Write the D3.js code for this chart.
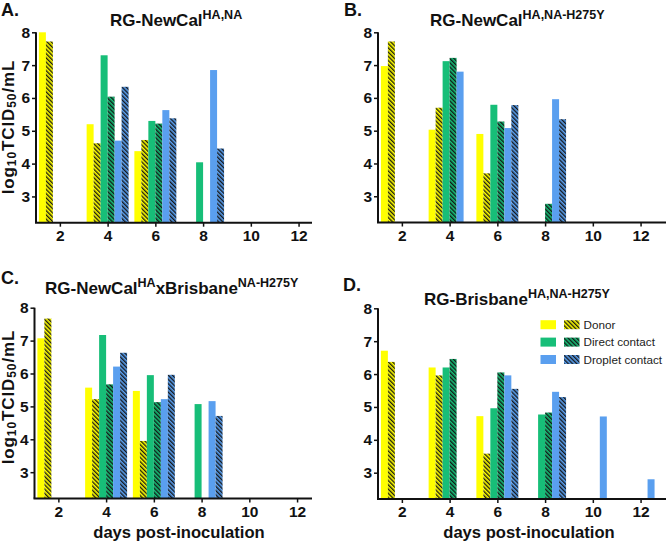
<!DOCTYPE html>
<html><head><meta charset="utf-8">
<script src="https://cdn.jsdelivr.net/npm/d3@7"></script>
<style>
html,body{margin:0;padding:0;background:#fff;}
svg{display:block;font-family:"Liberation Sans",Arial,sans-serif;}
</style></head>
<body><svg id="c" width="666" height="546"></svg>
<script>
// ---- data ----
const days = [2, 4, 6, 8, 10, 12];
const yTicks = [3, 4, 5, 6, 7, 8];
const seriesNames = ["Donor", "Donor", "Direct contact", "Direct contact", "Droplet contact", "Droplet contact"];
const seriesHatched = [false, true, false, true, false, true];
const seriesColors = ["#FFFF00", "#FFFF00", "#17BE78", "#17BE78", "#5A9FEF", "#5A9FEF"];
const legendLabels = ["Donor", "Direct contact", "Droplet contact"];
const panelLetters = ["A.", "B.", "C.", "D."];
const titleMain = ["RG-NewCal", "RG-NewCal", "RG-NewCal", "RG-Brisbane"];
const titleSup = ["HA,NA", "HA,NA-H275Y", "HA", "HA,NA-H275Y"];
const titleMid = ["", "", "xBrisbane", ""];
const titleSup2 = ["", "", "NA-H275Y", ""];

// values per panel: [series][day]
const panelA = [
  [8.0, 5.2, 4.38, null, null, null],
  [7.72, 4.62, 4.72, null, null, null],
  [null, 7.3, 5.3, 4.04, null, null],
  [null, 6.04, 5.22, null, null, null],
  [null, 4.7, 5.63, 6.85, null, null],
  [null, 6.34, 5.38, 4.46, null, null]
];
const panelB = [
  [6.97, 5.03, 4.9, null, null, null],
  [7.72, 5.7, 3.7, null, null, null],
  [null, 7.12, 5.79, null, null, null],
  [null, 7.22, 5.28, 2.77, null, null],
  [null, 6.8, 5.08, 5.96, null, null],
  [null, null, 5.78, 5.35, null, null]
];
const panelC = [
  [7.07, 5.57, 5.47, null, null, null],
  [7.67, 5.22, 3.95, null, null, null],
  [null, 7.17, 5.95, 5.07, null, null],
  [null, 5.67, 5.13, null, null, null],
  [null, 6.21, 5.22, 5.16, null, null],
  [null, 6.63, 5.96, 4.71, null, null]
];
const panelD = [
  [6.71, 6.2, 4.72, null, null, null],
  [6.37, 5.96, 3.58, null, null, null],
  [null, 6.2, 4.96, 4.77, null, null],
  [null, 6.46, 6.05, 4.83, null, null],
  [null, null, 5.96, 5.46, 4.71, 2.8],
  [null, null, 5.55, 5.3, null, null]
];
const panelData = [panelA, panelB, panelC, panelD];

// ---- layout ----
const layout = [
  {l: 36, t: 32.3, b: 222.7, axisEnd: 312, ylab: true, ylabY: 127, xlab: false, legend: false, lx: 1, ly: 16, tx: 110, ty: 26},
  {l: 378, t: 32.3, b: 222.5, axisEnd: 666, ylab: false, xlab: false, legend: false, lx: 344, ly: 16, tx: 430, ty: 26},
  {l: 34.5, t: 307.7, b: 498.5, axisEnd: 312, ylab: true, ylabY: 397, xlab: true, xlabX: 179, legend: false, lx: 1, ly: 284, tx: 45, ty: 294},
  {l: 378, t: 308.3, b: 499, axisEnd: 666, ylab: false, xlab: true, xlabX: 529, legend: true, lx: 343, ly: 290.5, tx: 424, ty: 305}
];
const pxPerDay = 23.87;
const barDays = 0.293;

const svg = d3.select("#c");
const defs = svg.append("defs");
seriesColors.forEach((c, i) => {
  if (!seriesHatched[i]) return;
  const p = defs.append("pattern").attr("id", "h" + i).attr("patternUnits", "userSpaceOnUse")
    .attr("width", 3).attr("height", 3).attr("patternTransform", "rotate(-45)");
  p.append("rect").attr("width", 3).attr("height", 3).attr("fill", c);
  p.append("line").attr("x1", 0.7).attr("x2", 0.7).attr("y1", 0).attr("y2", 3)
    .attr("stroke", "#111").attr("stroke-width", 1.3);
});
const fillOf = i => seriesHatched[i] ? "url(#h" + i + ")" : seriesColors[i];

panelData.forEach((data, pi) => {
  const L = layout[pi];
  const x = d3.scaleLinear().domain([1, 12.56]).range([L.l, L.l + 11.56 * pxPerDay]);
  const y = d3.scaleLinear().domain([2.2, 8]).range([L.b, L.t]);
  const g = svg.append("g");

  // bars
  data.forEach((vals, si) => {
    g.selectAll(null).data(days.map((d, k) => ({d, v: vals[k]})).filter(e => e.v != null))
      .enter().append("rect")
      .attr("x", e => x(e.d + (si - 3) * barDays))
      .attr("width", e => x(e.d + (si - 2) * barDays) - x(e.d + (si - 3) * barDays))
      .attr("y", e => y(e.v))
      .attr("height", e => y(2.2) - y(e.v))
      .attr("fill", fillOf(si));
  });

  // y axis
  const ya = g.append("g").attr("transform", `translate(${L.l},0)`)
    .call(d3.axisLeft(y).tickValues(yTicks).tickFormat(d3.format("d")).tickSize(4).tickPadding(2).tickSizeOuter(0));
  ya.select(".domain").attr("stroke", "#111").attr("stroke-width", 2).attr("d", `M0,${L.b}V${L.t}`);
  ya.selectAll(".tick line").attr("stroke", "#111").attr("stroke-width", 1.5);
  ya.selectAll("text").attr("font-size", 15.5).attr("font-weight", "bold").attr("fill", "#111")
    .attr("font-family", "Liberation Sans, Arial, sans-serif");

  // x axis
  const xa = g.append("g").attr("transform", `translate(0,${L.b})`)
    .call(d3.axisBottom(x).tickValues(days).tickFormat(d3.format("d")).tickSize(4).tickPadding(3).tickSizeOuter(0));
  xa.select(".domain").attr("stroke", "#111").attr("stroke-width", 2).attr("d", `M${L.l - 1},0H${L.axisEnd}`);
  xa.selectAll(".tick line").attr("stroke", "#111").attr("stroke-width", 1.5);
  xa.selectAll("text").attr("font-size", 15.5).attr("font-weight", "bold").attr("fill", "#111")
    .attr("font-family", "Liberation Sans, Arial, sans-serif");

  // panel letter
  svg.append("text").attr("x", L.lx).attr("y", L.ly).attr("font-size", 18).attr("font-weight", "bold")
    .attr("fill", "#111").text(panelLetters[pi]);

  // title
  const t = svg.append("text").attr("x", L.tx).attr("y", L.ty).attr("font-size", 17).attr("font-weight", "bold").attr("fill", "#111");
  t.append("tspan").text(titleMain[pi]);
  t.append("tspan").attr("font-size", 12.5).attr("dy", -7).text(titleSup[pi]);
  if (titleMid[pi]) {
    t.append("tspan").attr("dy", 7).text(titleMid[pi]);
    t.append("tspan").attr("font-size", 12.5).attr("dy", -7).text(titleSup2[pi]);
  }

  // y label
  if (L.ylab) {
    const yl = svg.append("text").attr("transform", `translate(14,${L.ylabY}) rotate(-90)`)
      .attr("text-anchor", "middle").attr("font-size", 17).attr("font-weight", "bold")
      .attr("letter-spacing", 0.9).attr("fill", "#111");
    yl.append("tspan").text("log");
    yl.append("tspan").attr("font-size", 12).attr("dy", 2).text("10");
    yl.append("tspan").attr("dy", -2).text("TCID");
    yl.append("tspan").attr("font-size", 12).attr("dy", 2).text("50");
    yl.append("tspan").attr("dy", -2).text("/mL");
  }
  // x label
  if (L.xlab) {
    svg.append("text").attr("x", L.xlabX).attr("y", 538).attr("text-anchor", "middle")
      .attr("font-size", 16.6).attr("font-weight", "bold").attr("fill", "#111").text("days post-inoculation");
  }
  // legend
  if (L.legend) {
    legendLabels.forEach((lab, k) => {
      const cyy = 324.7 + k * 17.4;
      svg.append("rect").attr("x", 540.5).attr("y", cyy - 4.5).attr("width", 15.5).attr("height", 9).attr("fill", fillOf(2 * k));
      svg.append("rect").attr("x", 564).attr("y", cyy - 4.5).attr("width", 15.5).attr("height", 9).attr("fill", fillOf(2 * k + 1));
      svg.append("text").attr("x", 583.5).attr("y", cyy + 4.3).attr("font-size", 11.7).attr("fill", "#222").text(lab);
    });
  }
});
</script></body></html>
